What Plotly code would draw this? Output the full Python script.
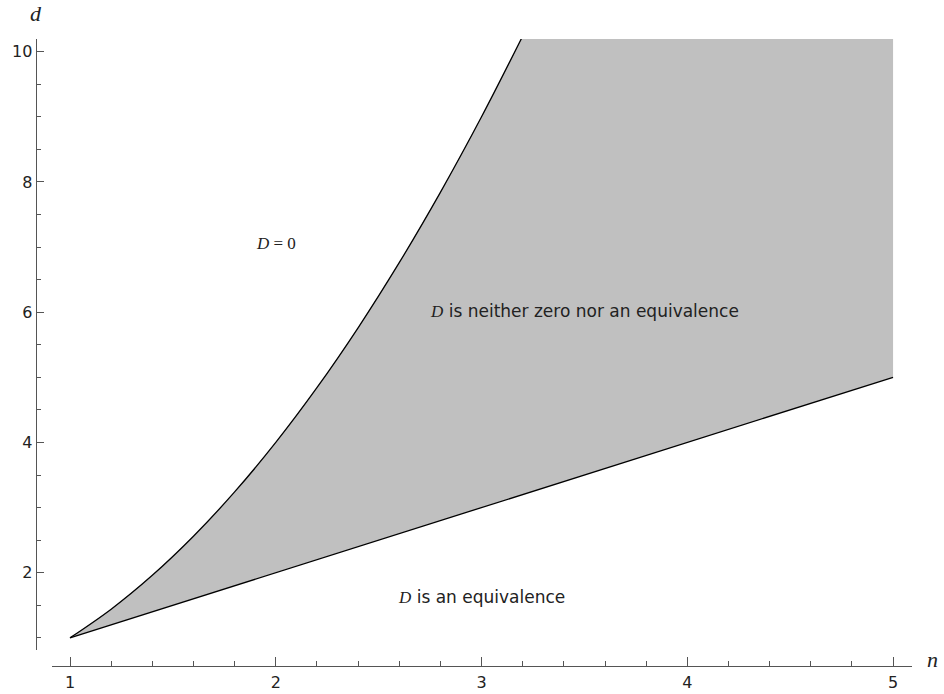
import plotly.graph_objects as go

# Upper boundary curve
n_upper = [1.0, 1.2, 1.4, 1.6, 1.8, 2.0, 2.2, 2.4, 2.6, 2.8, 3.0, 3.2]
d_upper = [1.0, 1.44, 1.96, 2.56, 3.24, 4.0, 4.84, 5.76, 6.76, 7.84, 9.0, 10.24]
# Lower boundary line
n_lower = [1.0, 5.0]
d_lower = [1.0, 5.0]
# Right edge of the shaded region
n_right = [5.0, 5.0]
d_right = [10.24, 5.0]

x_ticks = [1, 2, 3, 4, 5]
y_ticks = [2, 4, 6, 8, 10]

SERIF_D = '<span style="font-family:Liberation Serif;font-style:italic">D</span>'
labels = [
    dict(n=2.0, d=7.06, text=SERIF_D + '<span style="font-family:Liberation Serif"> = 0</span>', serif=True),
    dict(n=3.5, d=6.02, text=SERIF_D + " is neither zero nor an equivalence", serif=False),
    dict(n=3.0, d=1.62, text=SERIF_D + " is an equivalence", serif=False),
]

OFF = 0
W, H = 944, 694
ml, mr, mt, mb = 10, 10, 10, 10
pw, ph = W - ml - mr, H - mt - mb

def fx(px):
    return (px - OFF - ml) / pw

def fy(py):
    return (H - mb - (py - OFF)) / ph

fig = go.Figure()

poly_x = n_upper + n_right + n_lower[::-1]
poly_y = d_upper + d_right + d_lower[::-1]
fig.add_trace(go.Scatter(x=poly_x, y=poly_y, mode="lines", fill="toself",
                         fillcolor="#c0c0c0", line=dict(width=0, color="#c0c0c0"),
                         hoverinfo="skip", showlegend=False))
fig.add_trace(go.Scatter(x=n_upper, y=d_upper, mode="lines",
                         line=dict(color="black", width=1.3, shape="spline"),
                         showlegend=False))
fig.add_trace(go.Scatter(x=n_lower, y=d_lower, mode="lines",
                         line=dict(color="black", width=1.3),
                         showlegend=False))

axis_col = "#555555"
fig.update_layout(
    template="none",
    width=W, height=H,
    margin=dict(l=ml, r=mr, t=mt, b=mb),
    plot_bgcolor="white", paper_bgcolor="white",
    font=dict(family="DejaVu Sans", size=16, color="#222222"),
    xaxis=dict(
        domain=[fx(52), fx(912)], range=[0.9125, 5.092], automargin=False,
        anchor="free", position=fy(665.7),
        showgrid=False, zeroline=False, showline=True, linecolor=axis_col, linewidth=1.3,
        tickmode="array", tickvals=x_ticks, ticktext=[str(v) for v in x_ticks],
        ticks="inside", ticklen=9, tickcolor=axis_col, tickwidth=1,
        minor=dict(dtick=0.2, ticks="inside", ticklen=5, tickcolor=axis_col, tickwidth=1, showgrid=False),
        tickfont=dict(size=16, color="#222222"), ticklabelstandoff=2,
    ),
    yaxis=dict(
        domain=[fy(650), fy(39)], range=[0.813, 10.195], automargin=False,
        anchor="free", position=fx(35.7),
        showgrid=False, zeroline=False, showline=True, linecolor=axis_col, linewidth=1.3,
        tickmode="array", tickvals=y_ticks, ticktext=[str(v) for v in y_ticks],
        ticks="inside", ticklen=7, tickcolor=axis_col, tickwidth=1,
        minor=dict(dtick=0.5, ticks="inside", ticklen=4, tickcolor=axis_col, tickwidth=1, showgrid=False),
        tickfont=dict(size=16, color="#222222"),
    ),
)

for lab in labels:
    if lab["serif"]:
        f = dict(family="Liberation Serif", size=17, color="#222222")
    else:
        f = dict(family="DejaVu Sans", size=17, color="#222222")
    fig.add_annotation(x=lab["n"], y=lab["d"], xref="x", yref="y", text=lab["text"],
                       showarrow=False, font=f, xanchor="center", yanchor="middle")

fig.add_annotation(x=fx(35.5), y=fy(-1), xref="paper", yref="paper", text="<i>d</i>",
                   showarrow=False, font=dict(family="Liberation Serif", size=22, color="#222222"),
                   xanchor="center", yanchor="top")
fig.add_annotation(x=fx(932), y=fy(659), xref="paper", yref="paper", text="<i>n</i>",
                   showarrow=False, font=dict(family="Liberation Serif", size=22, color="#222222"),
                   xanchor="center", yanchor="middle")

fig.write_html(
    "out.html",
    config={"displayModeBar": False},
    post_script="document.body.style.margin='0';document.body.style.overflow='hidden';"
                "document.documentElement.style.overflow='hidden';",
)
